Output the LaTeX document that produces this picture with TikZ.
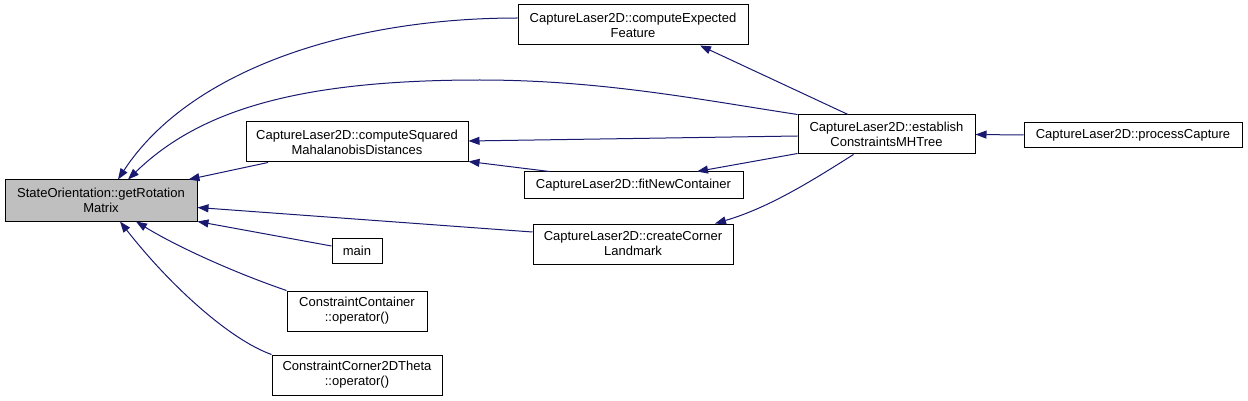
\documentclass[tikz,border=0pt]{standalone}
\usepackage{fontspec}
\setmainfont{Liberation Sans}
\usetikzlibrary{arrows.meta}
\definecolor{edgeblue}{HTML}{191970}
\definecolor{focusgray}{HTML}{BFBFBF}

\begin{document}
\begin{tikzpicture}[
  x=1pt, y=-1pt,
  fn/.style={rectangle, draw=black, fill=white, line width=1pt, inner sep=2pt,
             align=center, font=\fontsize{13}{15}\selectfont, minimum height=40pt},
  focus/.style={fn, fill=focusgray},
  call/.style={-{Triangle[length=11pt,width=8pt]}, line width=1pt, draw=edgeblue}
]
  \useasboundingbox (0,0) rectangle (1248,401);

  \node[focus, minimum width=192pt, minimum height=41pt] (rot) at (101,200.5) {StateOrientation::getRotation\\Matrix};
  \node[fn, minimum width=230pt] (expected) at (633,25) {CaptureLaser2D::computeExpected\\Feature};
  \node[fn, minimum width=222pt] (squared) at (357,142) {CaptureLaser2D::computeSquared\\MahalanobisDistances};
  \node[fn, minimum width=177pt, minimum height=39pt] (establish) at (886.5,134.5) {CaptureLaser2D::establish\\ConstraintsMHTree};
  \node[fn, minimum width=218pt, minimum height=25pt] (process) at (1133,135) {CaptureLaser2D::processCapture};
  \node[fn, minimum width=219pt, minimum height=26pt] (fit) at (633.5,185) {CaptureLaser2D::fitNewContainer};
  \node[fn, minimum width=200pt] (corner) at (633,244) {CaptureLaser2D::createCorner\\Landmark};
  \node[fn, minimum width=50pt, minimum height=25pt] (main) at (357,250.5) {main};
  \node[fn, minimum width=140pt] (ccont) at (357,311) {ConstraintContainer\\::operator()};
  \node[fn, minimum width=170pt] (ctheta) at (357,375) {ConstraintCorner2DTheta\\::operator()};

  % callers of getRotationMatrix
  \draw[call] ([yshift=7pt]expected.west) .. controls +(-168,0) and +(72,-110) .. ([xshift=17pt]rot.north);
  \draw[call] (establish.north west) .. controls +(-98,-15) and +(120,0) .. (480,80)
              .. controls +(-180,0) and +(72,-70) .. ([xshift=27pt]rot.north);
  \draw[call] ([xshift=-89pt]squared.south) -- ([xshift=-9pt]rot.north east);
  \draw[call] ([yshift=12pt]corner.west) -- ([yshift=-7pt]rot.east);
  \draw[call] ([yshift=4.5pt]main.west) -- (rot.south east);
  \draw[call] (ccont.north west) .. controls +(-47,-16) and +(44,27) .. ([xshift=35pt]rot.south);
  \draw[call] (ctheta.north west) .. controls +(-42,-15) and +(50,64) .. ([xshift=19pt]rot.south);

  % the rest of the tree
  \draw[call] ([yshift=-1.5pt]establish.west) -- ([yshift=1pt]squared.east);
  \draw[call] ([xshift=26pt]fit.north west) -- ([yshift=1pt]squared.south east);
  \draw[call] ([yshift=1pt]establish.south west) -- ([xshift=63.5pt]fit.north);
  \draw[call] ([xshift=-38.5pt]establish.north) -- ([xshift=67pt]expected.south);
  \draw[call] ([xshift=-33pt]establish.south) .. controls +(-38,24) and +(55,-16) .. ([xshift=82pt]corner.north);
  \draw[call] (process.west) -- (establish.east);
\end{tikzpicture}
\end{document}
